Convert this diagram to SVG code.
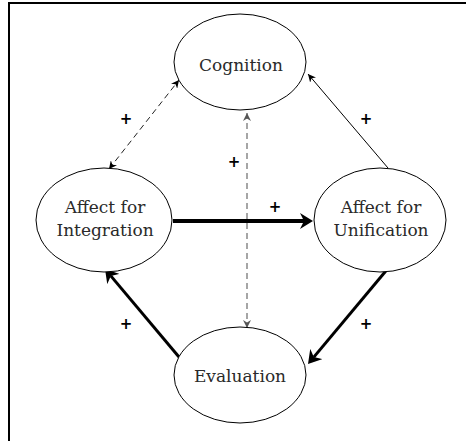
<svg xmlns="http://www.w3.org/2000/svg" width="466" height="441" viewBox="0 0 466 441">
<style>
.node ellipse{fill:#fff;stroke:#000;stroke-width:1}
.thin{fill:none;stroke:#000;stroke-width:1}
.dash{fill:none;stroke:#222;stroke-width:1;stroke-dasharray:6 4}
.gdash{fill:none;stroke:#777;stroke-width:1.3;stroke-dasharray:6 4}
.thick{fill:none;stroke:#000;stroke-width:4}
.thick3{fill:none;stroke:#000;stroke-width:3}
</style>
<defs>
<marker id="ah" markerUnits="userSpaceOnUse" markerWidth="9" markerHeight="8" refX="8" refY="4" orient="auto-start-reverse" viewBox="0 0 9 8">
<path d="M0,0 L8,4 L0,8 L2.5,4 z" fill="#000"/>
</marker>
<marker id="ahg" markerUnits="userSpaceOnUse" markerWidth="9" markerHeight="8" refX="8" refY="4" orient="auto-start-reverse" viewBox="0 0 9 8">
<path d="M0,0 L8,4 L0,8 L2.5,4 z" fill="#555"/>
</marker>
<marker id="big" markerUnits="userSpaceOnUse" markerWidth="14" markerHeight="16" refX="4" refY="8" orient="auto" viewBox="0 0 14 16">
<path d="M0,0 L13,8 L0,16 L4,8 z" fill="#000"/>
</marker>
</defs>
<rect x="9" y="3" width="500" height="500" fill="none" stroke="#000" stroke-width="2"/>
<g id="connectors">
<path class="dash" d="M109,169 L179,80" marker-start="url(#ah)" marker-end="url(#ah)"/>
<path class="gdash" d="M247,113 L247,328" marker-start="url(#ahg)" marker-end="url(#ahg)"/>
<path class="thin" d="M388,168 L308,74" marker-end="url(#ah)"/>
<path class="thick" d="M173,221 L304,221" marker-end="url(#big)"/>
<path class="thick3" d="M390,266 L313.8,357.1" marker-end="url(#big)"/>
<path class="thick3" d="M179,357 L110.8,275.9" marker-end="url(#big)"/>
<g font-family="DejaVu Sans, sans-serif" font-size="15" font-weight="bold" fill="#000" text-anchor="middle">
<text x="126" y="124">+</text>
<text x="366" y="124">+</text>
<text x="234" y="167">+</text>
<text x="275" y="212">+</text>
<text x="126" y="329">+</text>
<text x="366" y="329">+</text>
</g>
</g>
<g font-family="DejaVu Serif, serif" font-size="17" fill="#2a2a2a" text-anchor="middle">
<g id="cognition" class="node">
<ellipse cx="240" cy="62" rx="66" ry="48"/>
<text x="241" y="71">Cognition</text>
</g>
<g id="integration" class="node">
<ellipse cx="104" cy="220" rx="68" ry="52"/>
<text x="105" y="213">Affect for</text>
<text x="105" y="236">Integration</text>
</g>
<g id="unification" class="node">
<ellipse cx="380" cy="220" rx="66" ry="52"/>
<text x="381" y="213">Affect for</text>
<text x="381" y="236">Unification</text>
</g>
<g id="evaluation" class="node">
<ellipse cx="240" cy="375" rx="66" ry="48"/>
<text x="240" y="382">Evaluation</text>
</g>
</g>
</svg>
